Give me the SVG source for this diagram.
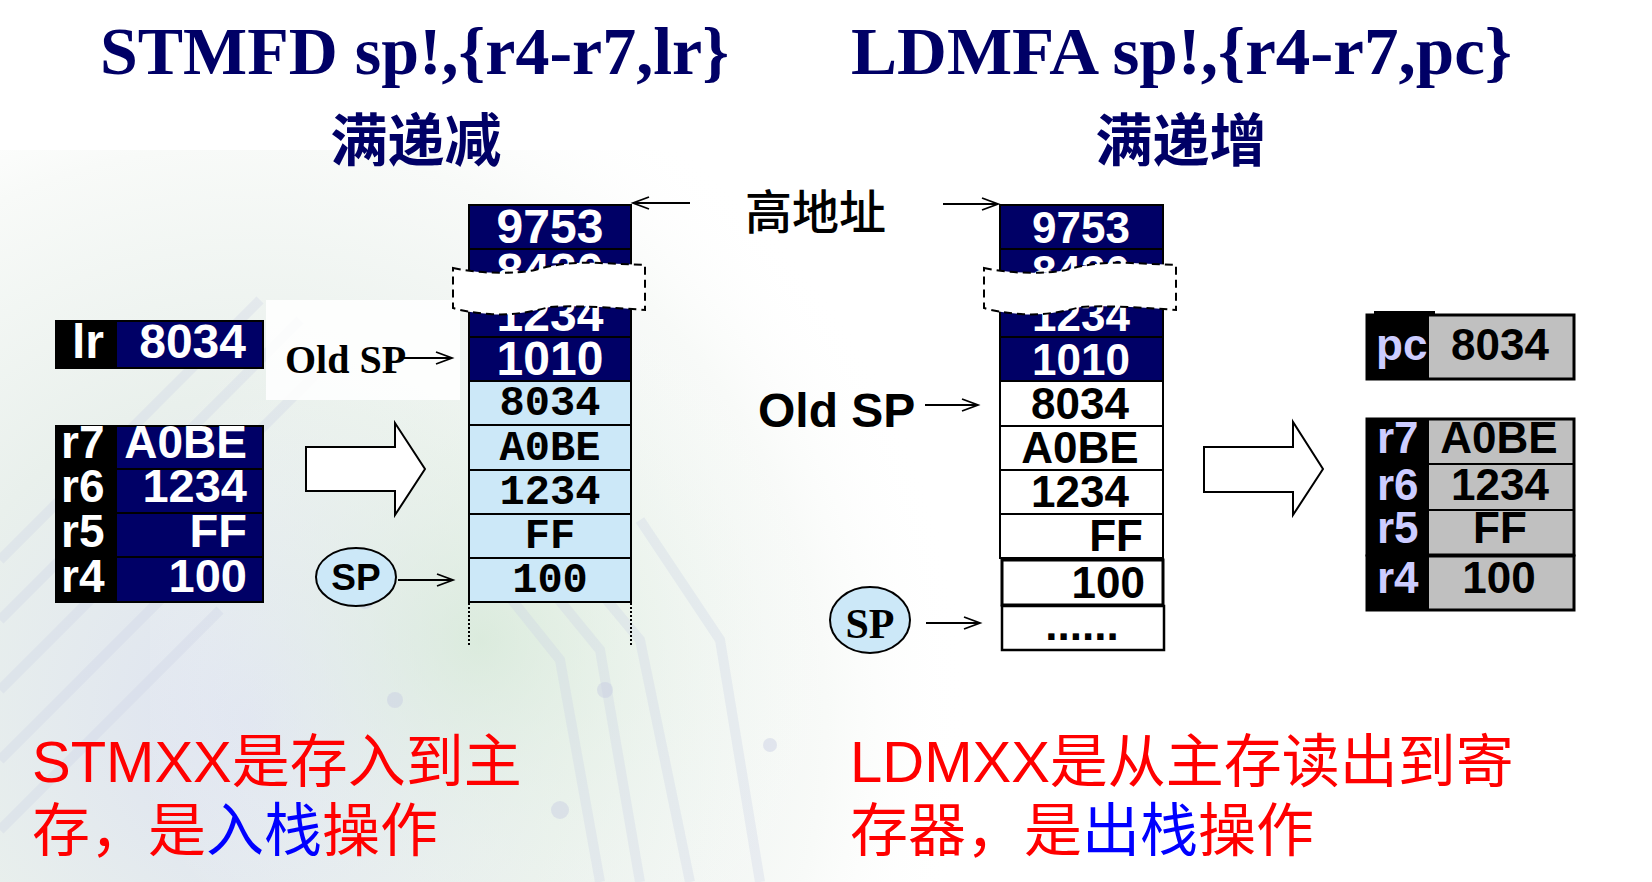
<svg xmlns="http://www.w3.org/2000/svg" width="1652" height="882" viewBox="0 0 1652 882">
  <defs>
    <radialGradient id="bgL" cx="250" cy="720" r="720" gradientUnits="userSpaceOnUse">
      <stop offset="0" stop-color="#dde2f1"/>
      <stop offset="0.45" stop-color="#e9f0ec"/>
      <stop offset="0.8" stop-color="#f8faf8"/>
      <stop offset="1" stop-color="#ffffff" stop-opacity="0"/>
    </radialGradient>
    <radialGradient id="bgG" cx="480" cy="640" r="380" gradientUnits="userSpaceOnUse">
      <stop offset="0" stop-color="#d6ead6" stop-opacity="0.7"/>
      <stop offset="1" stop-color="#ffffff" stop-opacity="0"/>
    </radialGradient>
    <marker id="ah" markerUnits="userSpaceOnUse" markerWidth="20" markerHeight="16" refX="17" refY="8" orient="auto">
      <path d="M1,2 L17,8 L1,14" fill="none" stroke="#000" stroke-width="1.8"/>
    </marker>
    <style>
      .title { font-family: "Liberation Serif", "Noto Sans CJK SC", serif; font-weight: bold; fill: #000066; font-size: 68px; }
      .ctitle { font-family: "Noto Sans CJK SC", sans-serif; font-weight: bold; fill: #000066; font-size: 57px; text-anchor: middle; }
      .dark { fill: #000066; stroke: #000; stroke-width: 2; }
      .light { fill: #cce8f8; stroke: #000; stroke-width: 2; }
      .wcell { fill: #ffffff; stroke: #000; stroke-width: 2; }
      .blk { fill: #000; }
      .navy { fill: #000066; }
      .gray { fill: #c0c0c0; stroke: #000; stroke-width: 2; }
      .arial { font-family: "Liberation Sans", Arial, sans-serif; font-weight: bold; }
      .wt { fill: #fff; }
      .bt { fill: #000; }
      .lav { fill: #ccccff; }
      .mid { text-anchor: middle; }
      .end { text-anchor: end; }
      .mono { font-family: "Liberation Mono", "Courier New", monospace; font-weight: bold; font-size: 42px; fill: #000; text-anchor: middle; }
      .conn { stroke: #000; stroke-width: 2; fill: none; marker-end: url(#ah); }
      .hollow { fill: #fff; stroke: #000; stroke-width: 2; }
      .brk { fill: #fff; stroke: #000; stroke-width: 2; stroke-dasharray: 8 5; }
      .note { font-family: "Liberation Sans", "Noto Sans CJK SC", sans-serif; font-size: 58px; fill: #ff0000; }
      .blue { fill: #0000ff; }
      .trace { fill: none; stroke: #c9cfe6; stroke-width: 10; opacity: 0.3; }
      .pad { fill: #c3c8e0; opacity: 0.4; }
    </style>
  </defs>

  <!-- background -->
  <rect x="0" y="0" width="1652" height="882" fill="#ffffff"/>
  <rect x="0" y="150" width="1000" height="732" fill="url(#bgL)"/>
  <rect x="150" y="300" width="700" height="582" fill="url(#bgG)"/>
  <g id="circuit">
    <path class="trace" d="M0,560 L260,300"/>
    <path class="trace" d="M0,620 L300,320"/>
    <path class="trace" d="M0,690 L330,360"/>
    <path class="trace" d="M0,760 L250,510"/>
    <path class="trace" d="M0,830 L220,610"/>
    <path class="trace" d="M480,560 L560,660 L600,882"/>
    <path class="trace" d="M510,540 L600,650 L640,882"/>
    <path class="trace" d="M540,520 L640,640 L690,882"/>
    <path class="trace" d="M640,520 L720,640 L760,882"/>
    <circle class="pad" cx="605" cy="690" r="8"/>
    <circle class="pad" cx="560" cy="810" r="9"/>
    <circle class="pad" cx="770" cy="745" r="7"/>
    <circle class="pad" cx="365" cy="600" r="9"/>
    <circle class="pad" cx="395" cy="700" r="8"/>
  </g>
  <rect x="266" y="300" width="194" height="100" fill="#ffffff" opacity="0.85"/>

  <!-- titles -->
  <g id="title-left">
    <text class="title" x="100" y="74" textLength="629" lengthAdjust="spacingAndGlyphs">STMFD sp!,{r4-r7,lr}</text>
    <text class="ctitle" x="416" y="161">满递减</text>
  </g>
  <g id="title-right">
    <text class="title" x="851" y="74" textLength="661" lengthAdjust="spacingAndGlyphs">LDMFA sp!,{r4-r7,pc}</text>
    <text class="ctitle" x="1181" y="161">满递增</text>
  </g>
  <g id="high-addr">
    <text x="745" y="229" font-family="Noto Sans CJK SC, sans-serif" font-size="47" font-weight="500" fill="#000">高地址</text>
  </g>

  <!-- left register file -->
  <g id="reg-lr">
    <rect class="blk" x="56" y="321" width="61" height="47"/>
    <rect class="navy" x="117" y="321" width="146" height="47"/>
    <rect x="56" y="321" width="207" height="47" fill="none" stroke="#000" stroke-width="2"/>
    <text class="arial wt" x="72" y="358" font-size="48">lr</text>
    <text class="arial wt end" x="246" y="358" font-size="48">8034</text>
  </g>
  <g id="regs-left">
    <rect class="blk" x="56" y="426" width="61" height="176"/>
    <rect class="navy" x="117" y="426" width="146" height="176"/>
    <path d="M117,469 H263 M117,513 H263 M117,557 H263" stroke="#000" stroke-width="2"/>
    <rect x="56" y="426" width="207" height="176" fill="none" stroke="#000" stroke-width="2"/>
    <text class="arial wt" x="61" y="458" font-size="46">r7</text>
    <text class="arial wt" x="61" y="502" font-size="46">r6</text>
    <text class="arial wt" x="61" y="547" font-size="46">r5</text>
    <text class="arial wt" x="61" y="592" font-size="46">r4</text>
    <text class="arial wt end" x="247" y="458" font-size="46">A0BE</text>
    <text class="arial wt end" x="247" y="502" font-size="47">1234</text>
    <text class="arial wt end" x="247" y="547" font-size="47">FF</text>
    <text class="arial wt end" x="247" y="592" font-size="47">100</text>
  </g>

  <!-- left stack -->
  <g id="stack-left">
    <rect class="dark" x="469" y="205" width="162" height="44"/>
    <rect class="dark" x="469" y="249" width="162" height="44"/>
    <rect class="dark" x="469" y="293" width="162" height="44"/>
    <rect class="dark" x="469" y="337" width="162" height="44"/>
    <rect class="light" x="469" y="381" width="162" height="44"/>
    <rect class="light" x="469" y="425" width="162" height="45"/>
    <rect class="light" x="469" y="470" width="162" height="44"/>
    <rect class="light" x="469" y="514" width="162" height="44"/>
    <rect class="light" x="469" y="558" width="162" height="44"/>
    <path d="M469,603 V647 M631,603 V647" stroke="#000" stroke-width="2" stroke-dasharray="2 2"/>
    <text class="arial wt mid" x="550" y="243" font-size="48">9753</text>
    <text class="arial wt mid" x="550" y="287" font-size="48">8420</text>
    <text class="arial wt mid" x="550" y="331" font-size="48">1234</text>
    <text class="arial wt mid" x="550" y="375" font-size="48">1010</text>
    <text class="mono" x="550" y="415">8034</text>
    <text class="mono" x="550" y="460">A0BE</text>
    <text class="mono" x="550" y="504">1234</text>
    <text class="mono" x="550" y="548">FF</text>
    <text class="mono" x="550" y="592">100</text>
    <path class="brk" d="M453,268 C480,274 515,274 535,270 C555,264 575,262 600,263 L645,265 L645,310 C620,308 575,305 550,307 C530,312 510,316 490,314 C475,313 462,311 453,308 Z"/>
  </g>

  <!-- right stack -->
  <g id="stack-right">
    <rect class="dark" x="1000" y="205" width="163" height="44"/>
    <rect class="dark" x="1000" y="249" width="163" height="44"/>
    <rect class="dark" x="1000" y="293" width="163" height="44"/>
    <rect class="dark" x="1000" y="337" width="163" height="44"/>
    <rect class="wcell" x="1000" y="381" width="163" height="45"/>
    <rect class="wcell" x="1000" y="426" width="163" height="44"/>
    <rect class="wcell" x="1000" y="470" width="163" height="44"/>
    <rect class="wcell" x="1000" y="514" width="163" height="44"/>
    <rect x="1002" y="560" width="161" height="45" fill="#fff" stroke="#000" stroke-width="3"/>
    <rect x="1002" y="606" width="162" height="44" fill="#fff" stroke="#000" stroke-width="2.5"/>
    <text class="arial wt mid" x="1081" y="243" font-size="44">9753</text>
    <text class="arial wt mid" x="1081" y="287" font-size="44">8420</text>
    <text class="arial wt mid" x="1081" y="331" font-size="44">1234</text>
    <text class="arial wt mid" x="1081" y="375" font-size="44">1010</text>
    <text class="arial bt mid" x="1080" y="419" font-size="44">8034</text>
    <text class="arial bt mid" x="1080" y="463" font-size="44">A0BE</text>
    <text class="arial bt mid" x="1080" y="507" font-size="44">1234</text>
    <text class="arial bt end" x="1143" y="551" font-size="44">FF</text>
    <text class="arial bt end" x="1145" y="598" font-size="44">100</text>
    <text class="arial bt mid" x="1082" y="640" font-size="44">......</text>
    <path class="brk" transform="translate(531,0)" d="M453,268 C480,274 515,274 535,270 C555,264 575,262 600,263 L645,265 L645,310 C620,308 575,305 550,307 C530,312 510,316 490,314 C475,313 462,311 453,308 Z"/>
  </g>

  <!-- right register file -->
  <g id="reg-pc">
    <rect class="blk" x="1374" y="311" width="61" height="6"/>
    <rect class="blk" x="1367" y="315" width="61" height="64"/>
    <rect class="gray" x="1428" y="315" width="146" height="64"/>
    <rect x="1367" y="315" width="207" height="64" fill="none" stroke="#000" stroke-width="3"/>
    <text class="arial lav" x="1376" y="360" font-size="44">pc</text>
    <text class="arial bt mid" x="1500" y="360" font-size="44">8034</text>
  </g>
  <g id="regs-right">
    <rect class="blk" x="1367" y="419" width="61" height="191"/>
    <rect class="gray" x="1428" y="419" width="146" height="45"/>
    <rect class="gray" x="1428" y="464" width="146" height="46"/>
    <rect class="gray" x="1428" y="510" width="146" height="45"/>
    <rect class="gray" x="1428" y="556" width="146" height="54"/>
    <rect x="1367" y="419" width="207" height="136" fill="none" stroke="#000" stroke-width="3"/>
    <rect x="1367" y="556" width="207" height="54" fill="none" stroke="#000" stroke-width="3"/>
    <text class="arial lav" x="1377" y="453" font-size="44">r7</text>
    <text class="arial lav" x="1377" y="500" font-size="44">r6</text>
    <text class="arial lav" x="1377" y="543" font-size="44">r5</text>
    <text class="arial lav" x="1377" y="593" font-size="44">r4</text>
    <text class="arial bt mid" x="1499" y="453" font-size="44">A0BE</text>
    <text class="arial bt mid" x="1500" y="500" font-size="44">1234</text>
    <text class="arial bt mid" x="1500" y="543" font-size="44">FF</text>
    <text class="arial bt mid" x="1499" y="593" font-size="44">100</text>
  </g>

  <!-- labels -->
  <g id="oldsp-left">
    <text x="285" y="373" font-family="Liberation Serif, serif" font-weight="bold" font-size="40" fill="#000">Old SP</text>
  </g>
  <g id="oldsp-right">
    <text class="arial bt" x="758" y="427" font-size="48">Old SP</text>
  </g>
  <g id="sp-left">
    <ellipse cx="356" cy="577" rx="40" ry="29" fill="#cce8f8" stroke="#000" stroke-width="2"/>
    <text class="arial bt mid" x="356" y="590" font-size="37">SP</text>
  </g>
  <g id="sp-right">
    <ellipse cx="870" cy="620" rx="40" ry="33" fill="#cce8f8" stroke="#000" stroke-width="2"/>
    <text x="870" y="638" text-anchor="middle" font-family="Liberation Serif, serif" font-weight="bold" font-size="42" fill="#000">SP</text>
  </g>

  <!-- big hollow arrows -->
  <g id="arrow-push">
    <path class="hollow" d="M306,447 L395,447 L395,423 L425,469 L395,515 L395,491 L306,491 Z"/>
  </g>
  <g id="arrow-pop">
    <path class="hollow" d="M1204,447 L1293,447 L1293,422 L1323,469 L1293,515 L1293,492 L1204,492 Z"/>
  </g>

  <!-- connectors -->
  <g id="connectors">
    <path class="conn" d="M690,203 H633"/>
    <path class="conn" d="M943,204 H998"/>
    <path class="conn" d="M403,358 H452"/>
    <path class="conn" d="M925,405 H978"/>
    <path class="conn" d="M398,580 H453"/>
    <path class="conn" d="M926,623 H980"/>
  </g>

  <!-- notes -->
  <g id="note-left">
    <text class="note" x="32" y="782">STMXX是存入到主</text>
    <text class="note" x="32" y="851">存，是<tspan class="blue">入栈</tspan>操作</text>
  </g>
  <g id="note-right">
    <text class="note" x="850" y="782">LDMXX是从主存读出到寄</text>
    <text class="note" x="850" y="851">存器，是<tspan class="blue">出栈</tspan>操作</text>
  </g>
</svg>
